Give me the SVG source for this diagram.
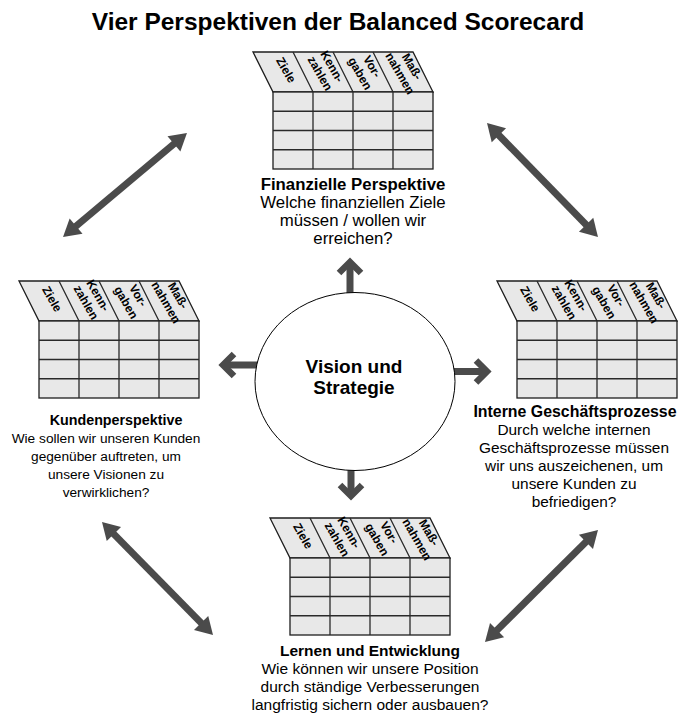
<svg xmlns="http://www.w3.org/2000/svg" width="682" height="719" viewBox="0 0 682 719">
  <style>
    .title { font-family: "Liberation Sans", Arial, sans-serif; font-weight: bold; font-size: 24.5px; fill: #000; text-anchor: middle; }
    .cap { font-family: "Liberation Sans", Arial, sans-serif; font-weight: bold; fill: #000; text-anchor: middle; }
    .txt { font-family: "Liberation Sans", Arial, sans-serif; fill: #000; text-anchor: middle; }
    .core { font-family: "Liberation Sans", Arial, sans-serif; font-weight: bold; font-size: 19px; fill: #000; text-anchor: middle; }
    .h { font-family: "Liberation Sans", Arial, sans-serif; font-weight: bold; font-size: 12px; fill: #000; text-anchor: middle; }
    .cell { fill: #e8e8e8; stroke: #1e1e1e; stroke-width: 1.3; }
    .grid { fill: none; stroke: #2a2a2a; stroke-width: 1.3; }
    .out { fill: none; stroke: #4b4b4b; stroke-width: 7; }
    .both { fill: none; stroke: #4b4b4b; stroke-width: 7; }
  </style>
  <defs>
    <!-- open chevron head for the arrows leaving the centre -->
    <marker id="chev" markerUnits="userSpaceOnUse" viewBox="-20 -20 30 40" refX="0" refY="0" markerWidth="30" markerHeight="40" orient="auto" overflow="visible">
      <path d="M-11,-11 L0,0 L-11,11" fill="none" stroke="#4b4b4b" stroke-width="6.5" stroke-linejoin="miter"/>
    </marker>
    <!-- solid head for the two-way arrows between perspectives -->
    <marker id="head" markerUnits="userSpaceOnUse" viewBox="-20 -20 40 40" refX="0" refY="0" markerWidth="40" markerHeight="40" orient="auto-start-reverse" overflow="visible">
      <path d="M10,0 L-7,-10 L-7,10 z" fill="#4b4b4b"/>
    </marker>
  </defs>

  <text class="title" x="338" y="30">Vier Perspektiven der Balanced Scorecard</text>

  <g id="connectors">
    <path class="out" d="M350,300 L350,262" marker-end="url(#chev)"/>
    <path class="out" d="M351,465 L351,496" marker-end="url(#chev)"/>
    <path class="out" d="M262,365 L223,365" marker-end="url(#chev)"/>
    <path class="out" d="M450,371.5 L487,371.5" marker-end="url(#chev)"/>
    <path class="both" d="M70.7,230.6 L179.3,139.4" marker-start="url(#head)" marker-end="url(#head)"/>
    <path class="both" d="M494,130.2 L591,229.8" marker-start="url(#head)" marker-end="url(#head)"/>
    <path class="both" d="M109,529.1 L206,627.9" marker-start="url(#head)" marker-end="url(#head)"/>
    <path class="both" d="M590.9,537 L492.1,635" marker-start="url(#head)" marker-end="url(#head)"/>
  </g>

  <g id="vision">
    <ellipse cx="355" cy="381.5" rx="100" ry="89" fill="#fff" stroke="#000" stroke-width="1"/>
    <text class="core" x="354" y="373">Vision und</text>
    <text class="core" x="354" y="394">Strategie</text>
  </g>

  <g id="finanzen">
    <g transform="translate(273,92)">
      <path class="cell" d="M-20,-40 L140,-40 L160,0 L0,0 z"/>
      <path class="grid" d="M20,-40 L40,0 M60,-40 L80,0 M100,-40 L120,0"/>
      <rect class="cell" x="0" y="0" width="160" height="77"/>
      <path class="grid" d="M0,19.25 H160 M0,38.5 H160 M0,57.75 H160 M40,0 V77 M80,0 V77 M120,0 V77"/>
      <g transform="translate(13,-22) rotate(60)"><text class="h" x="0" y="4">Ziele</text></g>
      <g transform="translate(53,-22) rotate(60)"><text class="h"><tspan x="0" y="-3">Kenn-</tspan><tspan x="0" y="11">zahlen</tspan></text></g>
      <g transform="translate(93,-22) rotate(60)"><text class="h"><tspan x="0" y="-3">Vor-</tspan><tspan x="0" y="11">gaben</tspan></text></g>
      <g transform="translate(133,-22) rotate(60)"><text class="h"><tspan x="0" y="-3">Maß-</tspan><tspan x="0" y="11">nahmen</tspan></text></g>
    </g>
    <g font-size="16.8">
      <text class="cap" x="353" y="190">Finanzielle Perspektive</text>
      <text class="txt" x="353" y="208">Welche finanziellen Ziele</text>
      <text class="txt" x="353" y="226">müssen / wollen wir</text>
      <text class="txt" x="353" y="244">erreichen?</text>
    </g>
  </g>

  <g id="kunden">
    <g transform="translate(39,321)">
      <path class="cell" d="M-20,-40 L140,-40 L160,0 L0,0 z"/>
      <path class="grid" d="M20,-40 L40,0 M60,-40 L80,0 M100,-40 L120,0"/>
      <rect class="cell" x="0" y="0" width="160" height="77"/>
      <path class="grid" d="M0,19.25 H160 M0,38.5 H160 M0,57.75 H160 M40,0 V77 M80,0 V77 M120,0 V77"/>
      <g transform="translate(13,-22) rotate(60)"><text class="h" x="0" y="4">Ziele</text></g>
      <g transform="translate(53,-22) rotate(60)"><text class="h"><tspan x="0" y="-3">Kenn-</tspan><tspan x="0" y="11">zahlen</tspan></text></g>
      <g transform="translate(93,-22) rotate(60)"><text class="h"><tspan x="0" y="-3">Vor-</tspan><tspan x="0" y="11">gaben</tspan></text></g>
      <g transform="translate(133,-22) rotate(60)"><text class="h"><tspan x="0" y="-3">Maß-</tspan><tspan x="0" y="11">nahmen</tspan></text></g>
    </g>
    <g font-size="13.7">
      <text class="cap" x="116" y="425" font-size="14.3">Kundenperspektive</text>
      <text class="txt" x="106" y="443">Wie sollen wir unseren Kunden</text>
      <text class="txt" x="106" y="461">gegenüber auftreten, um</text>
      <text class="txt" x="106" y="479">unsere Visionen zu</text>
      <text class="txt" x="106" y="497">verwirklichen?</text>
    </g>
  </g>

  <g id="prozesse">
    <g transform="translate(517,321)">
      <path class="cell" d="M-20,-40 L140,-40 L160,0 L0,0 z"/>
      <path class="grid" d="M20,-40 L40,0 M60,-40 L80,0 M100,-40 L120,0"/>
      <rect class="cell" x="0" y="0" width="160" height="77"/>
      <path class="grid" d="M0,19.25 H160 M0,38.5 H160 M0,57.75 H160 M40,0 V77 M80,0 V77 M120,0 V77"/>
      <g transform="translate(13,-22) rotate(60)"><text class="h" x="0" y="4">Ziele</text></g>
      <g transform="translate(53,-22) rotate(60)"><text class="h"><tspan x="0" y="-3">Kenn-</tspan><tspan x="0" y="11">zahlen</tspan></text></g>
      <g transform="translate(93,-22) rotate(60)"><text class="h"><tspan x="0" y="-3">Vor-</tspan><tspan x="0" y="11">gaben</tspan></text></g>
      <g transform="translate(133,-22) rotate(60)"><text class="h"><tspan x="0" y="-3">Maß-</tspan><tspan x="0" y="11">nahmen</tspan></text></g>
    </g>
    <g font-size="15.4">
      <text class="cap" x="575" y="417" font-size="15.9">Interne Geschäftsprozesse</text>
      <text class="txt" x="574" y="435">Durch welche internen</text>
      <text class="txt" x="574" y="453">Geschäftsprozesse müssen</text>
      <text class="txt" x="574" y="471">wir uns auszeichenen, um</text>
      <text class="txt" x="574" y="489">unsere Kunden zu</text>
      <text class="txt" x="574" y="507">befriedigen?</text>
    </g>
  </g>

  <g id="lernen">
    <g transform="translate(290,558)">
      <path class="cell" d="M-20,-40 L140,-40 L160,0 L0,0 z"/>
      <path class="grid" d="M20,-40 L40,0 M60,-40 L80,0 M100,-40 L120,0"/>
      <rect class="cell" x="0" y="0" width="160" height="77"/>
      <path class="grid" d="M0,19.25 H160 M0,38.5 H160 M0,57.75 H160 M40,0 V77 M80,0 V77 M120,0 V77"/>
      <g transform="translate(13,-22) rotate(60)"><text class="h" x="0" y="4">Ziele</text></g>
      <g transform="translate(53,-22) rotate(60)"><text class="h"><tspan x="0" y="-3">Kenn-</tspan><tspan x="0" y="11">zahlen</tspan></text></g>
      <g transform="translate(93,-22) rotate(60)"><text class="h"><tspan x="0" y="-3">Vor-</tspan><tspan x="0" y="11">gaben</tspan></text></g>
      <g transform="translate(133,-22) rotate(60)"><text class="h"><tspan x="0" y="-3">Maß-</tspan><tspan x="0" y="11">nahmen</tspan></text></g>
    </g>
    <g font-size="15.5">
      <text class="cap" x="370" y="656">Lernen und Entwicklung</text>
      <text class="txt" x="370" y="674">Wie können wir unsere Position</text>
      <text class="txt" x="370" y="692">durch ständige Verbesserungen</text>
      <text class="txt" x="370" y="710">langfristig sichern oder ausbauen?</text>
    </g>
  </g>
</svg>
